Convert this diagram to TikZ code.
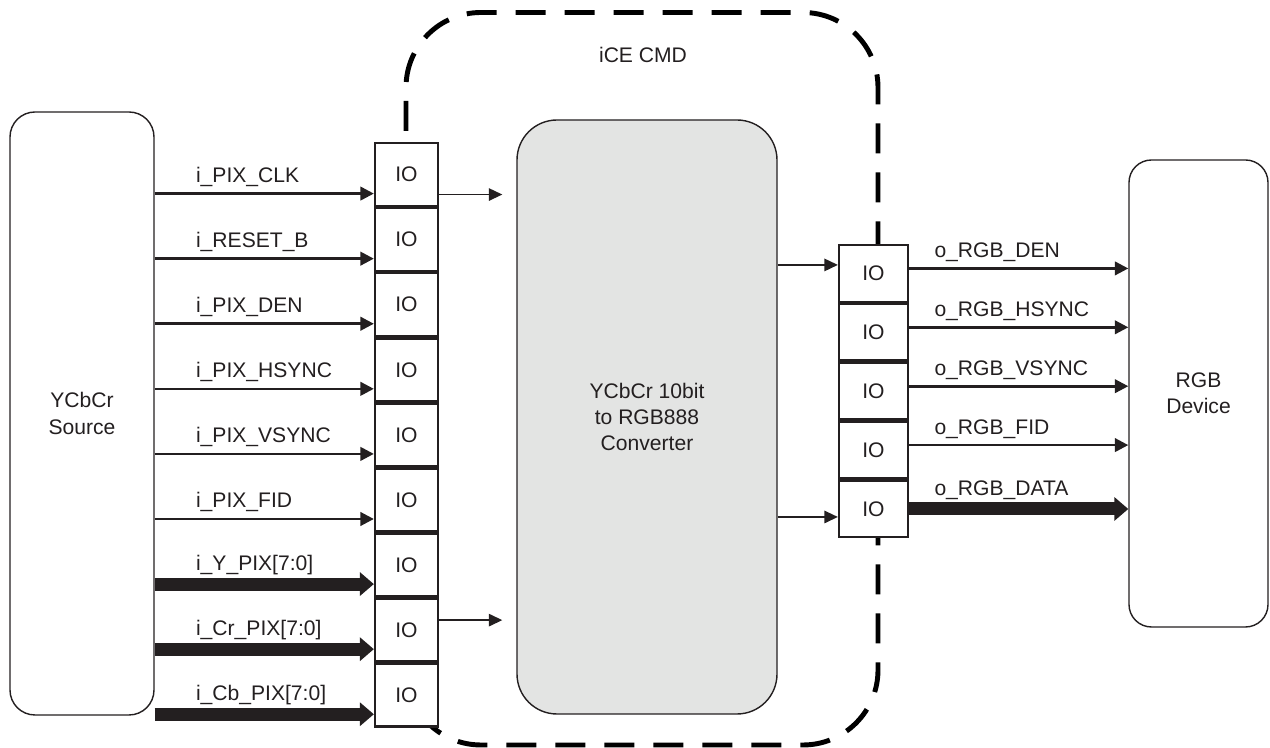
\documentclass[tikz,border=0pt]{standalone}
\usepackage{fontspec}
\setmainfont{Liberation Sans}
\usetikzlibrary{arrows.meta, positioning, calc}
\definecolor{ink}{HTML}{231F20}
\definecolor{convfill}{HTML}{E3E4E3}

\begin{document}
\begin{tikzpicture}[
  node distance=0pt,
  font=\fontsize{12}{15}\selectfont,
  block/.style={draw=ink, rectangle, rounded corners=0.5cm,
                line width=0.8pt, align=center, text=ink},
  io/.style={draw=ink, rectangle, fill=white, line width=1.3pt,
             minimum width=1.26cm, minimum height=1.256cm,
             inner sep=0pt, text=ink},
  oio/.style={io, minimum width=1.38cm, minimum height=1.132cm},
  sig/.style={-{Triangle[length=0.27cm, width=0.27cm]}, line width=1.5pt, draw=ink},
  bus/.style={-{Triangle[length=0.28cm, width=0.46cm]}, line width=0.26cm, draw=ink},
  link/.style={-{Triangle[length=0.27cm, width=0.25cm]}, line width=0.8pt, draw=ink},
  lbl/.style={anchor=base west, inner sep=0pt, text=ink},
  chip/.style={draw=black, line width=2.8pt, dash pattern=on 0.6cm off 0.38cm,
               rounded corners=1.5cm},
]
  \useasboundingbox (0,0) rectangle (25.4,14.96);

  \draw[chip] (8.12,0.06) rectangle (17.56,14.71);
  \node[text=ink] (cmd) at (12.86,13.86) {iCE CMD};

  \node[block, minimum width=2.88cm, minimum height=12.06cm] (src) at (1.64,6.69) {YCbCr\\Source};
  \node[block, fill=convfill, rounded corners=0.8cm, minimum width=5.2cm,
        minimum height=11.88cm] (conv) at (12.94,6.62) {YCbCr 10bit\\to RGB888\\Converter};
  \node[block, rounded corners=0.45cm, minimum width=2.78cm,
        minimum height=9.34cm] (dev) at (23.97,7.09) {RGB\\Device};

  \node[io, anchor=north] (in1) at (8.13,12.12) {IO};
  \foreach \i [count=\j from 1] in {2,...,9}
    \node[io, below=of in\j] (in\i) {IO};

  \node[oio, anchor=north] (out1) at (17.47,10.08) {IO};
  \foreach \i [count=\j from 1] in {2,...,5}
    \node[oio, below=of out\j] (out\i) {IO};

  \foreach \i/\name/\kind/\ly in {1/i\_PIX\_CLK/sig/0.22, 2/i\_RESET\_B/sig/0.22,
      3/i\_PIX\_DEN/sig/0.22, 4/i\_PIX\_HSYNC/sig/0.22, 5/i\_PIX\_VSYNC/sig/0.22,
      6/i\_PIX\_FID/sig/0.22, 7/i\_Y\_PIX[7:0]/bus/0.27, 8/i\_Cr\_PIX[7:0]/bus/0.27,
      9/i\_Cb\_PIX[7:0]/bus/0.27} {
    \coordinate (pin\i) at ([yshift=0.27cm]in\i.south west);
    \draw[\kind] (pin\i -| src.east) -- (pin\i);
    \node[lbl] (lin\i) at ([xshift=0.82cm, yshift=\ly cm]pin\i -| src.east) {\name};
  }

  \foreach \i/\name/\kind/\dy/\ly in {1/o\_RGB\_DEN/sig/0.1/0.22, 2/o\_RGB\_HSYNC/sig/0.1/0.22,
      3/o\_RGB\_VSYNC/sig/0.1/0.22, 4/o\_RGB\_FID/sig/0.1/0.22, 5/o\_RGB\_DATA/bus/0/0.27} {
    \coordinate (pout\i) at ([yshift=\dy cm]out\i.east);
    \draw[\kind] (pout\i) -- (pout\i -| dev.west);
    \node[lbl] (lout\i) at ([xshift=0.5cm, yshift=\ly cm]pout\i) {\name};
  }

  \coordinate (q1) at ([yshift=-0.4cm]in1.east);
  \draw[link, shorten >=0.28cm] (q1) -- (q1 -| conv.west);
  \coordinate (q2) at ([yshift=0.2cm]in8.east);
  \draw[link, shorten >=0.28cm] (q2) -- (q2 -| conv.west);
  \coordinate (r1) at ([yshift=0.17cm]out1.west);
  \draw[link] (r1 -| conv.east) -- (r1);
  \coordinate (r2) at ([yshift=-0.16cm]out5.west);
  \draw[link] (r2 -| conv.east) -- (r2);
\end{tikzpicture}
\end{document}
